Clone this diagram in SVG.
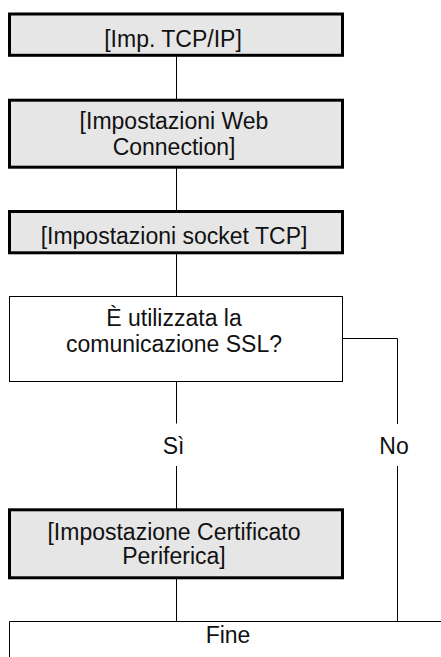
<svg xmlns="http://www.w3.org/2000/svg" width="441" height="657" viewBox="0 0 441 657">
<style>
.box{fill:#e6e6e6;stroke:#000;stroke-width:3}
.dec{fill:#fff;stroke:#000;stroke-width:1}
.ln{fill:none;stroke:#000;stroke-width:1}
text{font-family:"Liberation Sans",Arial,sans-serif;font-size:23px;fill:#111;text-anchor:middle}
</style>
<rect width="441" height="657" fill="#fff"/>
<g id="connectors">
<path class="ln" d="M176.5 55 V100"/>
<path class="ln" d="M176.5 167 V211"/>
<path class="ln" d="M176.5 253 V296.5"/>
<path class="ln" d="M176.5 381.5 V423.5"/>
<path class="ln" d="M176.5 466 V510"/>
<path class="ln" d="M176.5 578 V621.5"/>
<path class="ln" d="M342.5 338.5 H397.5 V424"/>
<path class="ln" d="M397.5 466 V621.5"/>
<text x="173.5" y="453.5">Sì</text>
<text x="394" y="453.5">No</text>
</g>
<g id="n1">
<rect class="box" x="9.5" y="14" width="333" height="41.3"/>
<text x="173" y="46.7">[Imp. TCP/IP]</text>
</g>
<g id="n2">
<rect class="box" x="9.5" y="100.2" width="333" height="67"/>
<text x="174" y="129.3">[Impostazioni Web</text>
<text x="174" y="155">Connection]</text>
</g>
<g id="n3">
<rect class="box" x="9.5" y="211.5" width="333" height="41.3"/>
<text x="174" y="244.2">[Impostazioni socket TCP]</text>
</g>
<g id="n4">
<rect class="dec" x="9.5" y="296.5" width="333" height="85"/>
<text x="174" y="326">È utilizzata la</text>
<text x="174" y="351.7">comunicazione SSL?</text>
</g>
<g id="n5">
<rect class="box" x="9.5" y="509.8" width="333" height="68"/>
<text x="174" y="540">[Impostazione Certificato</text>
<text x="174" y="564.3">Periferica]</text>
</g>
<g id="n6">
<path class="ln" d="M9.5 657 V621.5 H441"/>
<text x="228" y="643.3">Fine</text>
</g>
</svg>
